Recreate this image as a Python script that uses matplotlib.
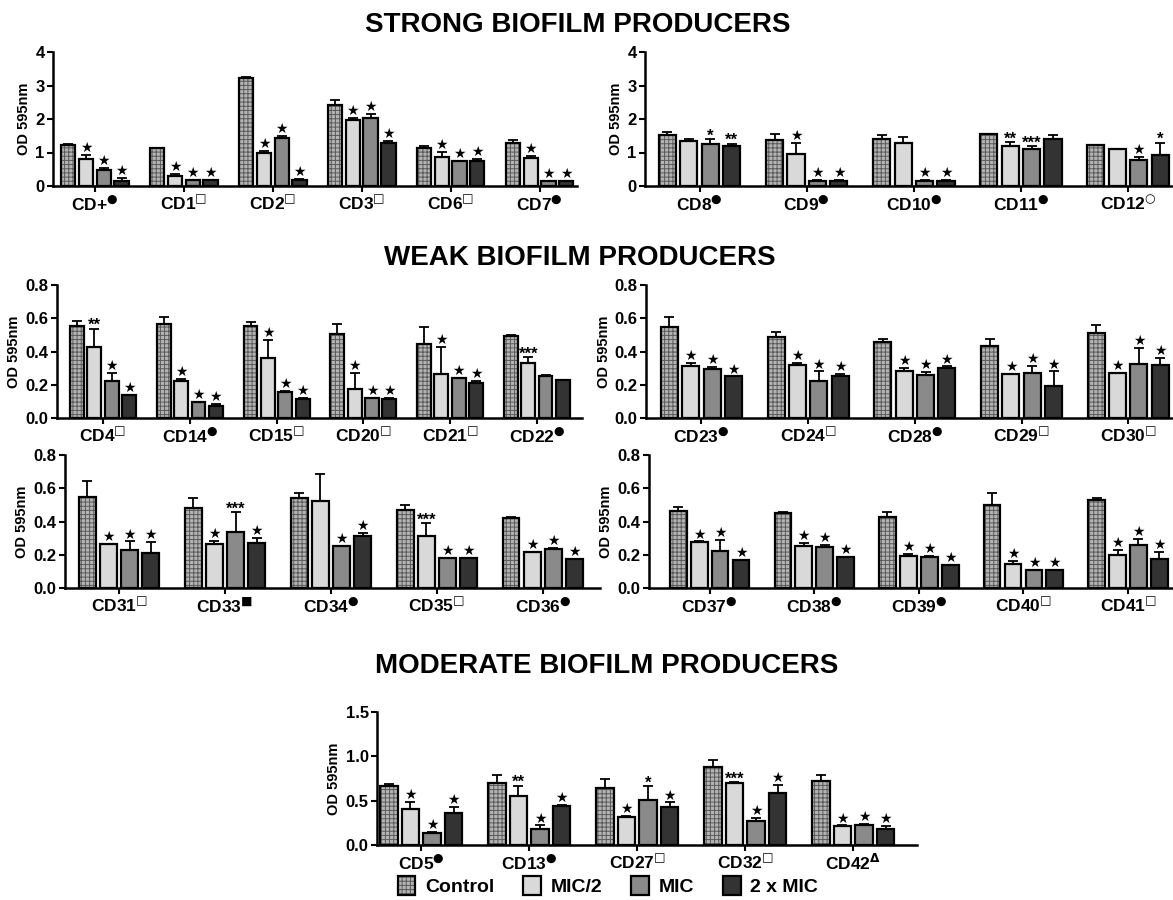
import numpy as np
import matplotlib.pyplot as plt
from matplotlib.patches import Patch

plt.rcParams['font.family'] = ['Liberation Sans', 'DejaVu Sans']
plt.rcParams['font.weight'] = 'bold'
plt.rcParams['hatch.linewidth'] = 0.7
plt.rcParams['mathtext.fontset'] = 'dejavusans'

series_names = ['Control', 'MIC/2', 'MIC', '2 x MIC']
bar_colors = ['#b4b4b4', '#d9d9d9', '#8a8a8a', '#333333']

# ---- strong biofilm producers
strong_left_labels = ['CD+', 'CD1', 'CD2', 'CD3', 'CD6', 'CD7']
strong_left_marks = ['●', '□', '□', '□', '□', '●']
strong_left_means = [[1.22, 0.82, 0.48, 0.15],
                     [1.13, 0.30, 0.17, 0.17],
                     [3.23, 1.00, 1.42, 0.17],
                     [2.41, 1.98, 2.03, 1.28],
                     [1.12, 0.87, 0.76, 0.76],
                     [1.28, 0.85, 0.15, 0.15]]
strong_left_sd = [[0.03, 0.10, 0.07, 0.10],
                  [0.00, 0.07, 0.02, 0.02],
                  [0.03, 0.05, 0.08, 0.04],
                  [0.16, 0.06, 0.12, 0.06],
                  [0.06, 0.14, 0.00, 0.05],
                  [0.08, 0.04, 0.00, 0.00]]
strong_left_sig = [['', '★', '★', '★']] * 6

strong_right_labels = ['CD8', 'CD9', 'CD10', 'CD11', 'CD12']
strong_right_marks = ['●', '●', '●', '●', '○']
strong_right_means = [[1.52, 1.35, 1.24, 1.18],
                      [1.38, 0.95, 0.15, 0.15],
                      [1.40, 1.29, 0.16, 0.16],
                      [1.55, 1.19, 1.11, 1.41],
                      [1.21, 1.09, 0.79, 0.94]]
strong_right_sd = [[0.08, 0.06, 0.15, 0.08],
                   [0.18, 0.33, 0.02, 0.02],
                   [0.13, 0.17, 0.02, 0.02],
                   [0.00, 0.11, 0.08, 0.10],
                   [0.00, 0.01, 0.09, 0.35]]
strong_right_sig = [['', '', '*', '**'],
                    ['', '★', '★', '★'],
                    ['', '', '★', '★'],
                    ['', '**', '***', ''],
                    ['', '', '★', '*']]

# ---- weak biofilm producers
weak1_left_labels = ['CD4', 'CD14', 'CD15', 'CD20', 'CD21', 'CD22']
weak1_left_marks = ['□', '●', '□', '□', '□', '●']
weak1_left_means = [[0.555, 0.425, 0.22, 0.14],
                    [0.565, 0.225, 0.095, 0.07],
                    [0.555, 0.36, 0.155, 0.115],
                    [0.505, 0.175, 0.12, 0.115],
                    [0.445, 0.265, 0.24, 0.21],
                    [0.495, 0.33, 0.25, 0.23]]
weak1_left_sd = [[0.03, 0.11, 0.05, 0.0],
                 [0.045, 0.01, 0.0, 0.015],
                 [0.025, 0.11, 0.01, 0.005],
                 [0.06, 0.095, 0.0, 0.005],
                 [0.10, 0.16, 0.0, 0.01],
                 [0.005, 0.035, 0.01, 0.0]]
weak1_left_sig = [['', '**', '★', '★'],
                  ['', '★', '★', '★'],
                  ['', '★', '★', '★'],
                  ['', '★', '★', '★'],
                  ['', '★', '★', '★'],
                  ['', '***', '', '']]

weak1_right_labels = ['CD23', 'CD24', 'CD28', 'CD29', 'CD30']
weak1_right_marks = ['●', '□', '●', '□', '□']
weak1_right_means = [[0.55, 0.31, 0.295, 0.25],
                     [0.49, 0.32, 0.22, 0.255],
                     [0.455, 0.28, 0.26, 0.30],
                     [0.435, 0.265, 0.27, 0.19],
                     [0.51, 0.27, 0.325, 0.32]]
weak1_right_sd = [[0.055, 0.02, 0.01, 0.0],
                  [0.03, 0.01, 0.06, 0.01],
                  [0.02, 0.02, 0.015, 0.01],
                  [0.04, 0.0, 0.045, 0.09],
                  [0.05, 0.0, 0.095, 0.04]]
weak1_right_sig = [['', '★', '★', '★']] * 5

weak2_left_labels = ['CD31', 'CD33', 'CD34', 'CD35', 'CD36']
weak2_left_marks = ['□', '■', '●', '□', '●']
weak2_left_means = [[0.545, 0.265, 0.23, 0.21],
                    [0.48, 0.265, 0.335, 0.27],
                    [0.54, 0.525, 0.255, 0.315],
                    [0.47, 0.31, 0.18, 0.18],
                    [0.42, 0.215, 0.235, 0.175]]
weak2_left_sd = [[0.10, 0.0, 0.05, 0.065],
                 [0.06, 0.02, 0.12, 0.03],
                 [0.03, 0.16, 0.0, 0.015],
                 [0.03, 0.08, 0.0, 0.0],
                 [0.01, 0.0, 0.005, 0.0]]
weak2_left_sig = [['', '★', '★', '★'],
                  ['', '★', '***', '★'],
                  ['', '', '★', '★'],
                  ['', '***', '★', '★'],
                  ['', '★', '★', '★']]

weak2_right_labels = ['CD37', 'CD38', 'CD39', 'CD40', 'CD41']
weak2_right_marks = ['●', '●', '●', '□', '□']
weak2_right_means = [[0.465, 0.275, 0.225, 0.17],
                     [0.45, 0.25, 0.245, 0.185],
                     [0.43, 0.195, 0.185, 0.14],
                     [0.50, 0.145, 0.11, 0.11],
                     [0.53, 0.20, 0.26, 0.175]]
weak2_right_sd = [[0.025, 0.005, 0.065, 0.0],
                  [0.005, 0.02, 0.015, 0.0],
                  [0.03, 0.01, 0.005, 0.0],
                  [0.07, 0.02, 0.0, 0.0],
                  [0.01, 0.03, 0.035, 0.04]]
weak2_right_sig = [['', '★', '★', '★']] * 5

# ---- moderate biofilm producers
moderate_labels = ['CD5', 'CD13', 'CD27', 'CD32', 'CD42']
moderate_marks = ['●', '●', '□', '□', 'Δ']
moderate_means = [[0.66, 0.41, 0.14, 0.36],
                  [0.70, 0.55, 0.18, 0.44],
                  [0.64, 0.32, 0.51, 0.43],
                  [0.88, 0.70, 0.27, 0.59],
                  [0.72, 0.21, 0.23, 0.18]]
moderate_sd = [[0.03, 0.08, 0.01, 0.07],
               [0.09, 0.12, 0.04, 0.01],
               [0.11, 0.01, 0.15, 0.05],
               [0.08, 0.005, 0.04, 0.09],
               [0.07, 0.01, 0.005, 0.03]]
moderate_sig = [['', '★', '★', '★'],
                ['', '**', '★', '★'],
                ['', '★', '*', '★'],
                ['', '***', '★', '★'],
                ['', '★', '★', '★']]

strong_ticks = [0, 1, 2, 3, 4]
weak_ticks = [0.0, 0.2, 0.4, 0.6, 0.8]
moderate_ticks = [0.0, 0.5, 1.0, 1.5]

W, H = 1173, 900
fig = plt.figure(figsize=(W / 100, H / 100), dpi=100)


def px_rect(x0, x1, top, bottom):
    return [x0 / W, 1 - bottom / H, (x1 - x0) / W, (bottom - top) / H]


def draw_panel(rect, xlim, labels, marks, means, sd, sig, yticks, ylabels):
    ax = fig.add_axes(rect)
    means = np.array(means)
    sd = np.array(sd)
    x = np.arange(len(labels))
    bw = 0.16
    for j in range(4):
        xs = x + (j - 1.5) * 0.2
        ax.errorbar(xs, means[:, j], yerr=[np.zeros(len(x)), sd[:, j]], fmt='none',
                    ecolor='black', elinewidth=1.3, capsize=3.5, capthick=1.3, zorder=1)
        if j == 0:
            ax.bar(xs, means[:, j], bw, color=bar_colors[0], hatch='++++',
                   edgecolor='#5a5a5a', linewidth=0, zorder=2)
            ax.bar(xs, means[:, j], bw, fill=False, edgecolor='black', linewidth=1.6, zorder=3)
        else:
            ax.bar(xs, means[:, j], bw, color=bar_colors[j], edgecolor='black',
                   linewidth=1.6, zorder=3)
        for k in range(len(x)):
            s = sig[k][j]
            if s == '★':
                ax.annotate(s, (xs[k], means[k, j] + sd[k, j]), xytext=(0, 0),
                            textcoords='offset points', ha='center', va='bottom',
                            fontsize=10, family='DejaVu Sans')
            elif s:
                ax.annotate(s, (xs[k], means[k, j] + sd[k, j]), xytext=(0, -3),
                            textcoords='offset points', ha='center', va='bottom',
                            fontsize=12, fontweight='bold')
    ax.set_xlim(*xlim)
    ax.set_ylim(0, yticks[-1])
    ax.set_yticks(yticks)
    ax.set_yticklabels(ylabels, fontsize=12, fontweight='bold')
    ax.set_xticks(x)
    ax.set_xticklabels([lab + '$^{' + m + '}$' for lab, m in zip(labels, marks)],
                       fontsize=12.5, fontweight='bold')
    ax.tick_params(axis='both', direction='out', length=4, width=1.5, pad=2)
    for side in ['top', 'right']:
        ax.spines[side].set_visible(False)
    for side in ['left', 'bottom']:
        ax.spines[side].set_linewidth(1.8)
    ax.set_ylabel('OD 595nm', fontsize=10.5, fontweight='bold', labelpad=3)
    return ax


strong_lbl = [str(v) for v in strong_ticks]
weak_lbl = ['%.1f' % v for v in weak_ticks]
mod_lbl = ['%.1f' % v for v in moderate_ticks]

draw_panel(px_rect(53, 577, 52, 186), (-0.47, 5.42), strong_left_labels, strong_left_marks,
           strong_left_means, strong_left_sd, strong_left_sig, strong_ticks, strong_lbl)
draw_panel(px_rect(645, 1173, 52, 186), (-0.51, 4.42), strong_right_labels, strong_right_marks,
           strong_right_means, strong_right_sd, strong_right_sig, strong_ticks, strong_lbl)

draw_panel(px_rect(57, 582, 285, 418), (-0.53, 5.52), weak1_left_labels, weak1_left_marks,
           weak1_left_means, weak1_left_sd, weak1_left_sig, weak_ticks, weak_lbl)
draw_panel(px_rect(646, 1173, 285, 418), (-0.52, 4.42), weak1_right_labels, weak1_right_marks,
           weak1_right_means, weak1_right_sd, weak1_right_sig, weak_ticks, weak_lbl)

draw_panel(px_rect(65, 600, 455, 588), (-0.51, 4.54), weak2_left_labels, weak2_left_marks,
           weak2_left_means, weak2_left_sd, weak2_left_sig, weak_ticks, weak_lbl)
draw_panel(px_rect(649, 1173, 455, 588), (-0.58, 4.43), weak2_right_labels, weak2_right_marks,
           weak2_right_means, weak2_right_sd, weak2_right_sig, weak_ticks, weak_lbl)

draw_panel(px_rect(377, 917, 712, 845), (-0.41, 4.59), moderate_labels, moderate_marks,
           moderate_means, moderate_sd, moderate_sig, moderate_ticks, mod_lbl)

fig.text(578 / W, 1 - 25 / H, 'STRONG BIOFILM PRODUCERS', ha='center', va='center',
         fontsize=20, fontweight='bold')
fig.text(580 / W, 1 - 258 / H, 'WEAK BIOFILM PRODUCERS', ha='center', va='center',
         fontsize=20, fontweight='bold')
fig.text(607 / W, 1 - 666 / H, 'MODERATE BIOFILM PRODUCERS', ha='center', va='center',
         fontsize=20, fontweight='bold')

handles = [(Patch(facecolor=bar_colors[0], hatch='++++', edgecolor='#5a5a5a', linewidth=0),
            Patch(fill=False, edgecolor='black', linewidth=1.6))]
for c in bar_colors[1:]:
    handles.append(Patch(facecolor=c, edgecolor='black', linewidth=1.6))
fig.legend(handles, series_names, loc='center', bbox_to_anchor=(608 / W, 1 - 886 / H), ncol=4,
           frameon=False, fontsize=14, handlelength=0.9, handleheight=1.1,
           handletextpad=0.5, columnspacing=1.5, borderpad=0)

fig.savefig('out.png', dpi=100)
